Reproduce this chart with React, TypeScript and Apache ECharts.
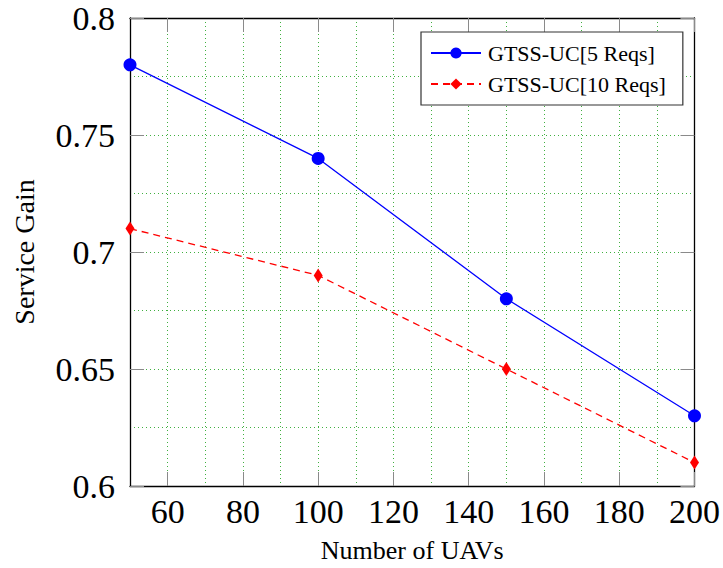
import React, { useEffect, useRef } from "react";
import * as echarts from "echarts";

const uavCounts = [50, 100, 150, 200];
const gain5 = [0.78, 0.74, 0.68, 0.63];
const gain10 = [0.71, 0.69, 0.65, 0.61];
const xTicks = [60, 80, 100, 120, 140, 160, 180, 200];
const yTicks = [0.6, 0.65, 0.7, 0.75, 0.8];
const seriesNames = ["GTSS-UC[5 Reqs]", "GTSS-UC[10 Reqs]"];

const FONT = "Liberation Serif";
const gridLine = { show: true, lineStyle: { color: "rgba(0,150,0,0.75)", type: [1, 3] as any, width: 1 } };
const tickStyle = { show: true, inside: true, length: 14, lineStyle: { color: "#8a8a8a", width: 1 } };
const frameLine = { show: true, onZero: false, lineStyle: { color: "#000", width: 1.3 } };
const hidden = { show: false };

export default function App() {
  const ref = useRef<HTMLDivElement>(null);
  useEffect(() => {
    const chart = echarts.init(ref.current!, undefined, { renderer: "svg" });
    chart.setOption({
      animation: false,
      backgroundColor: "#fff",
      textStyle: { fontFamily: FONT, color: "#000" },
      grid: { left: 130, top: 18, width: 566, height: 471, containLabel: false },
      xAxis: [
        {
          type: "value",
          min: 50,
          max: 200,
          interval: 10,
          name: "Number of UAVs",
          nameLocation: "middle",
          nameGap: 51,
          nameTextStyle: { fontFamily: FONT, fontSize: 26, color: "#000" },
          axisLine: frameLine,
          axisTick: { ...tickStyle, customValues: xTicks },
          axisLabel: {
            customValues: xTicks,
            fontFamily: FONT,
            fontSize: 34,
            color: "#000",
            margin: 8,
          },
          splitLine: hidden,
          z: 3,
        },
        {
          type: "value",
          position: "top",
          min: 50,
          max: 200,
          interval: 10,
          axisLine: frameLine,
          axisTick: { ...tickStyle, customValues: xTicks },
          axisLabel: hidden,
          splitLine: hidden,
          z: 3,
        },
        {
          type: "value",
          position: "bottom",
          min: 50,
          max: 200,
          interval: 10,
          axisLine: hidden,
          axisTick: hidden,
          axisLabel: hidden,
          splitLine: gridLine,
          z: 1,
        },
      ],
      yAxis: [
        {
          type: "value",
          min: 0.6,
          max: 0.8,
          interval: 0.025,
          name: "Service Gain",
          nameLocation: "middle",
          nameGap: 92,
          nameTextStyle: { fontFamily: FONT, fontSize: 28, color: "#000" },
          axisLine: frameLine,
          axisTick: { ...tickStyle, customValues: yTicks },
          axisLabel: {
            customValues: yTicks,
            fontFamily: FONT,
            fontSize: 34,
            color: "#000",
            margin: 15,
          },
          splitLine: hidden,
          z: 3,
        },
        {
          type: "value",
          position: "right",
          min: 0.6,
          max: 0.8,
          interval: 0.025,
          axisLine: frameLine,
          axisTick: { ...tickStyle, customValues: yTicks },
          axisLabel: hidden,
          splitLine: hidden,
          z: 3,
        },
        {
          type: "value",
          position: "left",
          min: 0.6,
          max: 0.8,
          interval: 0.025,
          axisLine: hidden,
          axisTick: hidden,
          axisLabel: hidden,
          splitLine: gridLine,
          z: 1,
        },
      ],
      legend: {
        left: 421,
        top: 32,
        orient: "vertical",
        padding: [10, 17, 10, 9],
        itemGap: 9,
        itemWidth: 50,
        itemHeight: 14,
        backgroundColor: "#fff",
        borderColor: "#333",
        borderWidth: 1.2,
        borderRadius: 0,
        textStyle: { fontFamily: FONT, fontSize: 22, color: "#000", padding: [0, 0, 0, 2] },
        data: seriesNames,
      },
      series: [
        {
          name: seriesNames[0],
          type: "line",
          data: uavCounts.map((x, i) => [x, gain5[i]]),
          symbol: "circle",
          symbolSize: 13,
          lineStyle: { color: "#0000ff", width: 1.3 },
          itemStyle: { color: "#0000ff" },
          clip: false,
          z: 5,
        },
        {
          name: seriesNames[1],
          type: "line",
          data: uavCounts.map((x, i) => [x, gain10[i]]),
          symbol: "diamond",
          symbolSize: [9, 14],
          lineStyle: { color: "#ff0000", width: 1.3, type: [7, 5] },
          itemStyle: { color: "#ff0000" },
          clip: false,
          z: 4,
        },
      ],
    });
    return () => chart.dispose();
  }, []);
  return <div ref={ref} style={{ width: 723, height: 568, position: "absolute", left: 0, top: 0 }} />;
}
